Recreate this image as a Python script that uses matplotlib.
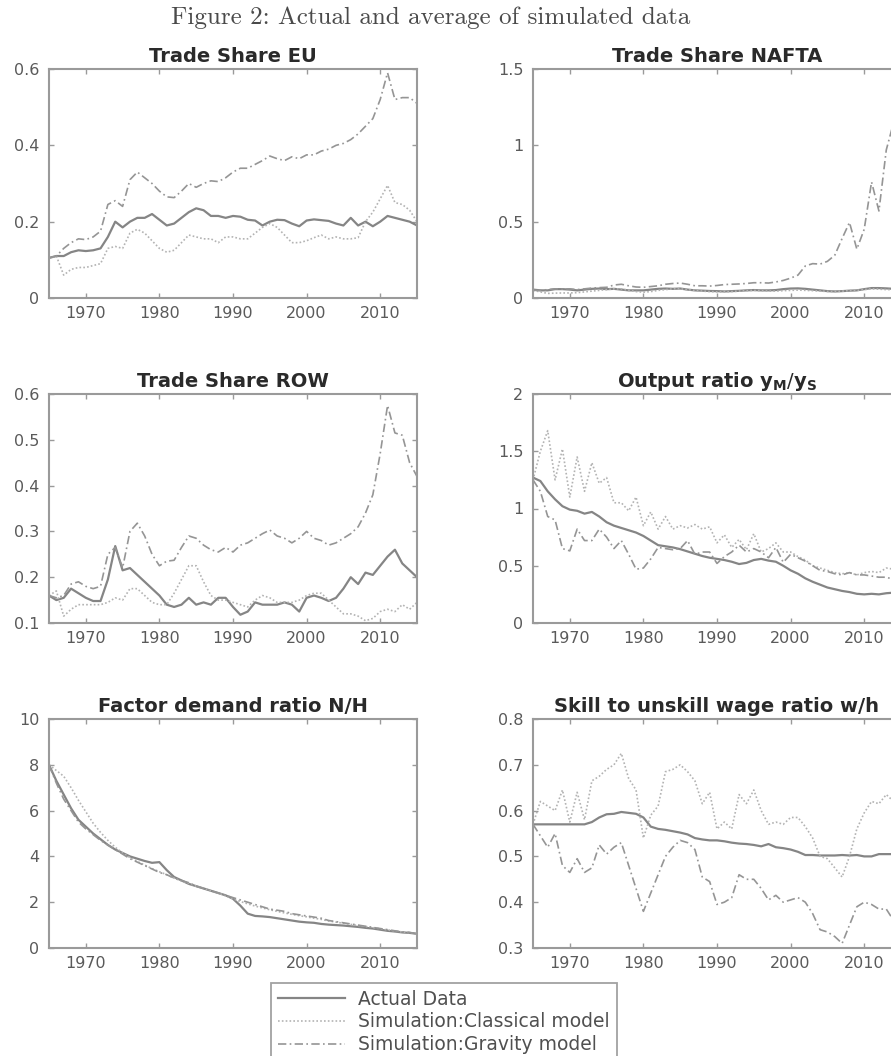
import numpy as np
import matplotlib
matplotlib.use("Agg")
import matplotlib.pyplot as plt
from matplotlib.ticker import FuncFormatter, FixedLocator

years = list(range(1965, 2016))

# ---- Trade Share EU ----
eu_actual = [0.105, 0.11, 0.11, 0.12, 0.125, 0.123, 0.125, 0.13, 0.16, 0.20,
             0.185, 0.20, 0.21, 0.21, 0.22, 0.205, 0.19, 0.195, 0.21, 0.225,
             0.235, 0.23, 0.215, 0.215, 0.21, 0.215, 0.213, 0.205, 0.203, 0.19,
             0.20, 0.205, 0.204, 0.195, 0.188, 0.203, 0.206, 0.204, 0.202, 0.195,
             0.19, 0.21, 0.19, 0.20, 0.188, 0.20, 0.215, 0.21, 0.205, 0.20, 0.19]
eu_classical = [0.105, 0.11, 0.06, 0.075, 0.08, 0.08, 0.085, 0.09, 0.13, 0.135,
                0.13, 0.17, 0.18, 0.17, 0.15, 0.13, 0.12, 0.125, 0.145, 0.165,
                0.16, 0.155, 0.155, 0.145, 0.16, 0.16, 0.155, 0.155, 0.17, 0.185,
                0.195, 0.185, 0.165, 0.145, 0.145, 0.15, 0.158, 0.165, 0.155, 0.16,
                0.155, 0.155, 0.158, 0.20, 0.225, 0.26, 0.295, 0.25, 0.245, 0.23, 0.20]
eu_gravity = [0.105, 0.11, 0.13, 0.145, 0.155, 0.153, 0.16, 0.175, 0.245, 0.255,
              0.24, 0.31, 0.33, 0.315, 0.30, 0.28, 0.265, 0.263, 0.28, 0.30,
              0.29, 0.30, 0.307, 0.305, 0.315, 0.33, 0.34, 0.34, 0.35, 0.36,
              0.372, 0.365, 0.36, 0.37, 0.365, 0.375, 0.375, 0.385, 0.39, 0.40,
              0.405, 0.415, 0.43, 0.45, 0.47, 0.52, 0.59, 0.52, 0.525, 0.525, 0.51]

# ---- Trade Share NAFTA ----
nafta_actual = [0.055, 0.05, 0.05, 0.058, 0.058, 0.055, 0.05, 0.055, 0.06, 0.062,
                0.058, 0.06, 0.055, 0.05, 0.05, 0.05, 0.055, 0.06, 0.062, 0.06,
                0.062, 0.055, 0.05, 0.048, 0.046, 0.045, 0.043, 0.045, 0.047, 0.05,
                0.052, 0.05, 0.05, 0.052, 0.058, 0.062, 0.063, 0.06, 0.055, 0.05,
                0.045, 0.043, 0.045, 0.048, 0.05, 0.058, 0.065, 0.065, 0.063, 0.06, 0.06]
nafta_classical = [0.05, 0.04, 0.03, 0.032, 0.033, 0.033, 0.035, 0.04, 0.045, 0.05,
                   0.055, 0.06, 0.06, 0.05, 0.042, 0.038, 0.042, 0.05, 0.055, 0.06,
                   0.06, 0.055, 0.05, 0.045, 0.042, 0.04, 0.04, 0.042, 0.045, 0.048,
                   0.05, 0.048, 0.045, 0.045, 0.048, 0.05, 0.052, 0.05, 0.048, 0.045,
                   0.043, 0.042, 0.045, 0.048, 0.05, 0.055, 0.06, 0.058, 0.055, 0.055, 0.055]
nafta_gravity = [0.05, 0.05, 0.055, 0.06, 0.058, 0.06, 0.055, 0.06, 0.065, 0.068,
                 0.07, 0.085, 0.09, 0.08, 0.072, 0.07, 0.075, 0.08, 0.09, 0.095,
                 0.098, 0.09, 0.08, 0.08, 0.078, 0.082, 0.088, 0.09, 0.092, 0.095,
                 0.10, 0.10, 0.098, 0.105, 0.115, 0.13, 0.15, 0.21, 0.225, 0.222,
                 0.24, 0.28, 0.39, 0.495, 0.32, 0.45, 0.76, 0.57, 0.97, 1.15, 1.25]

# ---- Trade Share ROW ----
row_actual = [0.16, 0.15, 0.155, 0.175, 0.165, 0.155, 0.148, 0.148, 0.195, 0.268,
              0.215, 0.22, 0.205, 0.19, 0.175, 0.16, 0.14, 0.135, 0.14, 0.155,
              0.14, 0.145, 0.14, 0.155, 0.155, 0.135, 0.118, 0.125, 0.145, 0.14,
              0.14, 0.14, 0.145, 0.14, 0.125, 0.155, 0.16, 0.155, 0.148, 0.155,
              0.175, 0.20, 0.185, 0.21, 0.205, 0.225, 0.245, 0.26, 0.23, 0.215, 0.20]
row_classical = [0.16, 0.17, 0.115, 0.13, 0.14, 0.14, 0.14, 0.14, 0.145, 0.155,
                 0.15, 0.175, 0.175, 0.16, 0.145, 0.14, 0.14, 0.165, 0.195, 0.225,
                 0.225, 0.19, 0.16, 0.15, 0.15, 0.145, 0.14, 0.135, 0.15, 0.16,
                 0.155, 0.145, 0.145, 0.145, 0.15, 0.16, 0.165, 0.165, 0.15, 0.135,
                 0.12, 0.12, 0.115, 0.105, 0.11, 0.125, 0.13, 0.125, 0.14, 0.13, 0.145]
row_gravity = [0.16, 0.155, 0.16, 0.185, 0.19, 0.18, 0.175, 0.18, 0.25, 0.265,
               0.22, 0.30, 0.318, 0.29, 0.25, 0.225, 0.235, 0.237, 0.265, 0.29,
               0.285, 0.27, 0.26, 0.255, 0.265, 0.255, 0.27, 0.275, 0.285, 0.295,
               0.303, 0.29, 0.285, 0.275, 0.285, 0.30, 0.285, 0.28, 0.27, 0.275,
               0.285, 0.295, 0.31, 0.34, 0.38, 0.47, 0.575, 0.515, 0.51, 0.45, 0.42]

# ---- Output ratio yM/yS ----
out_actual = [1.27, 1.24, 1.15, 1.08, 1.02, 0.99, 0.98, 0.955, 0.97, 0.93,
              0.88, 0.85, 0.83, 0.81, 0.79, 0.76, 0.72, 0.68, 0.67, 0.66,
              0.645, 0.625, 0.605, 0.585, 0.57, 0.56, 0.55, 0.535, 0.515, 0.525,
              0.55, 0.56, 0.545, 0.535, 0.50, 0.46, 0.43, 0.39, 0.36, 0.335,
              0.31, 0.295, 0.28, 0.27, 0.255, 0.25, 0.255, 0.25, 0.26, 0.265, 0.265]
out_classical = [1.25, 1.5, 1.68, 1.25, 1.52, 1.10, 1.45, 1.15, 1.40, 1.22,
                 1.27, 1.05, 1.05, 0.98, 1.10, 0.85, 0.97, 0.82, 0.93, 0.82,
                 0.85, 0.83, 0.86, 0.82, 0.84, 0.70, 0.77, 0.66, 0.73, 0.64,
                 0.78, 0.62, 0.65, 0.70, 0.62, 0.62, 0.58, 0.55, 0.50, 0.48,
                 0.46, 0.44, 0.43, 0.44, 0.42, 0.44, 0.45, 0.44, 0.48, 0.47, 0.45]
out_gravity = [1.25, 1.15, 0.93, 0.90, 0.65, 0.63, 0.82, 0.72, 0.72, 0.82,
               0.75, 0.65, 0.72, 0.60, 0.47, 0.48, 0.56, 0.66, 0.65, 0.64,
               0.65, 0.72, 0.60, 0.62, 0.62, 0.52, 0.58, 0.62, 0.68, 0.62,
               0.65, 0.62, 0.57, 0.66, 0.53, 0.60, 0.57, 0.54, 0.50, 0.46,
               0.45, 0.43, 0.42, 0.44, 0.42, 0.42, 0.41, 0.40, 0.40, 0.38, 0.36]

# ---- Factor demand ratio N/H ----
fd_actual = [8.0, 7.3, 6.7, 6.1, 5.6, 5.3, 5.0, 4.75, 4.5, 4.3,
             4.15, 4.0, 3.9, 3.8, 3.72, 3.75, 3.4, 3.1, 2.95, 2.8,
             2.7, 2.6, 2.5, 2.4, 2.3, 2.15, 1.85, 1.5, 1.4, 1.38,
             1.35, 1.3, 1.25, 1.2, 1.15, 1.12, 1.1, 1.05, 1.02, 1.0,
             0.98, 0.95, 0.92, 0.88, 0.85, 0.8, 0.75, 0.72, 0.68, 0.66, 0.62]
fd_classical = [8.0, 7.75, 7.5, 7.0, 6.45, 5.95, 5.45, 5.05, 4.7, 4.4,
                4.15, 3.95, 3.78, 3.62, 3.47, 3.33, 3.2, 3.05, 2.93, 2.82,
                2.7, 2.6, 2.5, 2.4, 2.28, 2.15, 2.03, 1.93, 1.83, 1.75,
                1.67, 1.6, 1.53, 1.47, 1.41, 1.36, 1.3, 1.25, 1.18, 1.13,
                1.08, 1.03, 0.98, 0.94, 0.89, 0.84, 0.79, 0.74, 0.70, 0.67, 0.63]
fd_gravity = [8.0, 7.2, 6.5, 6.0, 5.5, 5.2, 4.95, 4.7, 4.5, 4.3,
              4.1, 3.9, 3.75, 3.6, 3.45, 3.3, 3.2, 3.05, 2.95, 2.85,
              2.7, 2.6, 2.5, 2.4, 2.3, 2.2, 2.1, 2.0, 1.9, 1.8,
              1.7, 1.65, 1.6, 1.5, 1.45, 1.4, 1.35, 1.3, 1.2, 1.15,
              1.1, 1.05, 1.0, 0.95, 0.9, 0.85, 0.8, 0.75, 0.7, 0.68, 0.62]

# ---- Skill to unskill wage ratio w/h ----
wage_actual = [0.57, 0.57, 0.57, 0.57, 0.57, 0.57, 0.57, 0.57, 0.575, 0.585,
               0.592, 0.593, 0.597, 0.595, 0.593, 0.585, 0.565, 0.56, 0.558, 0.555,
               0.552, 0.548, 0.54, 0.537, 0.535, 0.535, 0.533, 0.53, 0.528, 0.527,
               0.525, 0.522, 0.527, 0.52, 0.518, 0.515, 0.51, 0.503, 0.503, 0.502,
               0.502, 0.502, 0.503, 0.502, 0.503, 0.50, 0.50, 0.505, 0.505, 0.505, 0.505]
wage_classical = [0.57, 0.62, 0.61, 0.60, 0.645, 0.575, 0.64, 0.58, 0.665, 0.675,
                  0.69, 0.70, 0.725, 0.67, 0.645, 0.54, 0.59, 0.61, 0.685, 0.69,
                  0.70, 0.685, 0.665, 0.615, 0.64, 0.56, 0.575, 0.56, 0.635, 0.615,
                  0.645, 0.60, 0.57, 0.575, 0.57, 0.585, 0.585, 0.565, 0.54, 0.50,
                  0.495, 0.475, 0.455, 0.50, 0.56, 0.595, 0.62, 0.615, 0.635, 0.62, 0.63]
wage_gravity = [0.57, 0.545, 0.52, 0.55, 0.48, 0.465, 0.495, 0.465, 0.475, 0.525,
                0.505, 0.52, 0.53, 0.48, 0.43, 0.38, 0.42, 0.46, 0.50, 0.52,
                0.535, 0.53, 0.515, 0.455, 0.445, 0.395, 0.40, 0.41, 0.46, 0.45,
                0.45, 0.43, 0.405, 0.415, 0.40, 0.405, 0.41, 0.40, 0.375, 0.34,
                0.335, 0.325, 0.31, 0.35, 0.39, 0.40, 0.395, 0.385, 0.385, 0.36, 0.34]

titles = ["Trade Share EU", "Trade Share NAFTA", "Trade Share ROW",
          r"Output ratio $\mathbf{y}_\mathbf{M}/\mathbf{y}_\mathbf{S}$",
          "Factor demand ratio N/H", "Skill to unskill wage ratio w/h"]
yticks = [[0, 0.2, 0.4, 0.6], [0, 0.5, 1, 1.5], [0.1, 0.2, 0.3, 0.4, 0.5, 0.6],
          [0, 0.5, 1, 1.5, 2], [0, 2, 4, 6, 8, 10], [0.3, 0.4, 0.5, 0.6, 0.7, 0.8]]
xticks = [1970, 1980, 1990, 2000, 2010]
series = [(eu_actual, eu_classical, eu_gravity),
          (nafta_actual, nafta_classical, nafta_gravity),
          (row_actual, row_classical, row_gravity),
          (out_actual, out_classical, out_gravity),
          (fd_actual, fd_classical, fd_gravity),
          (wage_actual, wage_classical, wage_gravity)]
labels = ["Actual Data", "Simulation:Classical model", "Simulation:Gravity model"]

plt.rcParams['font.family'] = ['DejaVu Sans']
plt.rcParams['mathtext.fontset'] = 'dejavusans'

W, H = 891, 1056
fig = plt.figure(figsize=(W / 100, H / 100), dpi=100)

lefts = [49, 533]
tops = [69, 394, 719]
aw, ah = 368, 229

spine_c = '#9a9a9a'
tick_c = '#5a5a5a'
c_act = '#858585'
c_cls = '#b3b3b3'
c_grv = '#959595'

handles = None
for i in range(6):
    r, c = divmod(i, 2)
    x0 = lefts[c] / W
    y0 = 1 - (tops[r] + ah) / H
    ax = fig.add_axes([x0, y0, aw / W, ah / H])
    a, cl, g = series[i]
    h1, = ax.plot(years, a, color=c_act, lw=1.6, ls='-')
    h2, = ax.plot(years, cl, color=c_cls, lw=1.2, ls=(0, (1, 1.3)))
    h3, = ax.plot(years, g, color=c_grv, lw=1.2, ls=(0, (5, 2, 1, 2)))
    handles = [h1, h2, h3]
    ax.set_xlim(1965, 2015)
    ax.set_ylim(yticks[i][0], yticks[i][-1])
    ax.xaxis.set_major_locator(FixedLocator(xticks))
    ax.yaxis.set_major_locator(FixedLocator(yticks[i]))
    ax.yaxis.set_major_formatter(FuncFormatter(lambda v, p: '%g' % v))
    ax.tick_params(direction='in', length=3.5, width=1, colors=spine_c,
                   labelcolor=tick_c, labelsize=11.5, top=True, right=True)
    ax.tick_params(axis='y', pad=7)
    ax.tick_params(axis='x', pad=6)
    for s in ax.spines.values():
        s.set_color(spine_c)
        s.set_linewidth(1.5)
    ax.set_title(titles[i], fontsize=14, fontweight='bold', color='#2a2a2a', pad=5)

fig.text(0.483, 1 - 18 / H, "Figure 2: Actual and average of simulated data",
         ha='center', va='center', fontsize=18, family='cmr10', color='#4a4a4a')

leg = fig.legend(handles, labels, loc='upper center',
                 bbox_to_anchor=(444 / W, 1 - 983 / H), fontsize=13.5,
                 frameon=True, fancybox=False, edgecolor='#8a8a8a',
                 handlelength=3.6, handletextpad=0.7, labelspacing=0.2,
                 borderpad=0.35, borderaxespad=0)
leg.get_frame().set_linewidth(1.3)
for t in leg.get_texts():
    t.set_color('#505050')

fig.savefig("out.png", dpi=100)
